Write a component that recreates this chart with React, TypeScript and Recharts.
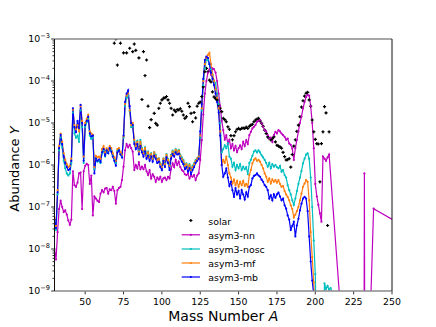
import React from "react";
import { ComposedChart, Line, Scatter, XAxis, YAxis } from "recharts";

// every model series starts at A = 30 and steps by 1
const massStart = 30;

// log10 of abundance Y
const mbLog = [
  -7.3, -7.5, -6.65, -5.6, -5.28, -5.5, -5.8, -5.95, -6.05, -6.12, // 30
  -6.1, -5.9, -4.65, -5.1, -5.22, -4.95, -5.12, -4.57, -5.0, -5.9, // 40
  -5.05, -4.95, -4.85, -5.25, -5.32, -5.3, -6.2, -5.85, -5.9, -5.87, // 50
  -5.93, -5.7, -5.62, -5.78, -5.65, -5.72, -5.6, -5.68, -5.8, -5.9, // 60
  -6.02, -5.7, -5.65, -5.75, -5.82, -5.3, -4.5, -4.3, -4.22, -4.6, // 70
  -5.0, -5.05, -5.5, -5.62, -5.5, -5.75, -5.55, -5.7, -5.8, -5.68, // 80
  -5.85, -5.78, -5.9, -5.8, -5.92, -5.78, -5.85, -5.95, -5.92, -6.05, // 90
  -6.12, -5.9, -6.05, -5.82, -5.95, -6.12, -5.85, -5.74, -5.8, -5.7, // 100
  -5.75, -5.73, -5.85, -5.92, -5.98, -6.1, -6.05, -6.16, -6.08, -6.22, // 110
  -6.12, -6.05, -5.95, -5.9, -5.85, -5.2, -4.55, -3.95, -3.5, -3.42, // 120
  -3.45, -3.6, -3.8, -3.95, -4.1, -4.3, -4.5, -4.75, -5.3, -6.0, // 130
  -6.28, -6.2, -6.08, -6.3, -6.5, -6.4, -6.6, -6.76, -6.55, -6.7, // 140
  -6.62, -6.8, -6.6, -6.7, -6.82, -6.65, -6.75, -6.52, -6.48, -6.32, // 150
  -6.26, -6.24, -6.2, -6.25, -6.28, -6.35, -6.4, -6.48, -6.52, -6.6, // 160
  -6.8, -6.72, -6.84, -6.7, -6.78, -6.7, -6.66, -6.75, -6.84, -6.8, // 170
  -6.96, -7.04, -7.2, -7.3, -7.55, -7.45, -7.35, -7.7, -7.44, -7.28, // 180
  -7.08, -6.92, -6.8, -6.76, -6.8, -7.1, -7.7, -8.3, -8.75, -9.1, // 190
  -10,
];

const mfLog = [
  -7.25, -7.45, -6.6, -5.55, -5.25, -5.45, -5.72, -5.88, -5.98, -6.05, // 30
  -6.02, -5.85, -4.68, -5.05, -5.15, -5.05, -5.2, -4.6, -4.95, -5.8, // 40
  -5.0, -4.9, -4.8, -5.2, -5.25, -5.28, -6.05, -5.78, -5.82, -5.8, // 50
  -5.85, -5.62, -5.55, -5.7, -5.6, -5.65, -5.55, -5.6, -5.72, -5.82, // 60
  -5.9, -5.62, -5.6, -5.7, -5.75, -5.32, -4.55, -4.35, -4.3, -4.7, // 70
  -5.05, -5.0, -5.4, -5.55, -5.45, -5.68, -5.45, -5.62, -5.72, -5.6, // 80
  -5.78, -5.7, -5.82, -5.74, -5.85, -5.7, -5.78, -5.88, -5.85, -5.98, // 90
  -6.05, -5.85, -5.98, -5.76, -5.88, -6.02, -5.78, -5.68, -5.74, -5.64, // 100
  -5.7, -5.66, -5.78, -5.85, -5.9, -6.02, -5.98, -6.08, -6.0, -6.12, // 110
  -6.05, -5.98, -5.9, -5.85, -5.8, -5.3, -4.65, -4.0, -3.6, -3.45, // 120
  -3.38, -3.33, -3.6, -3.85, -4.0, -4.2, -4.4, -4.65, -5.2, -6.0, // 130
  -5.88, -5.95, -5.8, -6.0, -6.2, -6.3, -6.44, -6.35, -6.48, -6.38, // 140
  -6.52, -6.4, -6.48, -6.38, -6.5, -6.45, -6.52, -6.24, -6.12, -5.96, // 150
  -5.88, -5.84, -5.9, -5.88, -5.92, -6.0, -6.08, -6.2, -6.28, -6.4, // 160
  -6.32, -6.44, -6.34, -6.4, -6.36, -6.42, -6.36, -6.45, -6.52, -6.5, // 170
  -6.62, -6.7, -6.76, -6.84, -6.96, -7.05, -7.25, -7.18, -7.1, -7.0, // 180
  -6.84, -6.68, -6.52, -6.44, -6.36, -6.4, -6.84, -7.6, -8.2, -8.8, // 190
  -9.6,
];

const noscLog = [
  -7.35, -7.55, -6.7, -5.65, -5.35, -5.58, -5.9, -6.08, -6.2, -6.25, // 30
  -6.2, -5.95, -4.75, -5.25, -5.35, -5.3, -5.45, -4.7, -5.1, -5.95, // 40
  -5.1, -4.98, -4.9, -5.3, -5.38, -5.35, -6.1, -5.85, -5.92, -5.9, // 50
  -5.95, -5.72, -5.65, -5.8, -5.66, -5.72, -5.6, -5.66, -5.78, -5.88, // 60
  -5.95, -5.66, -5.64, -5.74, -5.8, -5.35, -4.6, -4.4, -4.35, -4.72, // 70
  -5.1, -5.08, -5.42, -5.55, -5.42, -5.65, -5.4, -5.6, -5.7, -5.58, // 80
  -5.75, -5.68, -5.8, -5.72, -5.84, -5.7, -5.76, -5.86, -5.84, -5.96, // 90
  -6.04, -5.84, -5.96, -5.74, -5.86, -6.0, -5.76, -5.66, -5.72, -5.62, // 100
  -5.68, -5.64, -5.76, -5.82, -5.88, -6.0, -5.96, -6.06, -5.98, -6.1, // 110
  -6.02, -5.96, -5.88, -5.84, -5.8, -5.35, -4.7, -4.1, -3.7, -3.5, // 120
  -3.5, -3.6, -3.72, -3.85, -4.0, -4.05, -4.3, -4.55, -5.0, -5.7, // 130
  -5.62, -5.53, -5.6, -5.48, -5.8, -5.85, -6.04, -5.95, -6.12, -6.0, // 140
  -6.08, -5.98, -6.12, -6.04, -6.1, -6.05, -6.22, -5.95, -5.88, -5.78, // 150
  -5.68, -5.65, -5.7, -5.65, -5.7, -5.77, -5.82, -5.88, -5.95, -6.04, // 160
  -5.95, -6.08, -5.98, -6.04, -6.0, -6.05, -6.08, -6.02, -6.16, -6.12, // 170
  -6.24, -6.3, -6.48, -6.6, -6.7, -6.84, -6.95, -6.8, -6.62, -6.45, // 180
  -6.3, -6.14, -5.96, -5.85, -5.75, -5.72, -5.85, -6.3, -7.0, -7.8, // 190
  -8.6, -10.5, -10.5, -10.5, -10.5, -10.5, -8.82, -8.95, -8.88, -8.97, // 200
  -8.93, -9.02, -9.5, -11,
];

const nnLog = [
  -8.0, -8.25, -7.6, -7.05, -6.85, -7.0, -7.12, -7.08, -7.18, -7.32, // 30
  -7.42, -7.3, -6.15, -6.48, -6.52, -6.42, -6.2, -6.18, -7.05, -6.15, // 40
  -6.02, -5.97, -6.0, -6.45, -6.25, -7.2, -6.75, -6.8, -6.85, -6.88, // 50
  -6.68, -6.6, -6.65, -6.56, -6.55, -6.68, -6.58, -6.6, -6.52, -6.62, // 60
  -6.92, -6.6, -6.55, -6.52, -6.36, -6.04, -5.65, -5.5, -5.58, -5.52, // 70
  -5.6, -5.68, -6.12, -6.0, -6.08, -5.93, -6.1, -6.04, -6.1, -6.0, // 80
  -6.15, -6.24, -6.12, -6.32, -6.22, -6.28, -6.4, -6.3, -6.35, -6.28, // 90
  -6.4, -6.32, -6.3, -6.36, -6.28, -6.32, -6.1, -5.96, -6.05, -5.88, // 100
  -6.0, -5.92, -6.05, -6.12, -6.15, -6.22, -6.24, -6.2, -6.32, -6.25, // 110
  -6.28, -6.24, -6.36, -6.25, -6.2, -5.88, -5.41, -4.8, -4.3, -4.0, // 120
  -3.8, -3.72, -3.85, -3.7, -3.72, -3.8, -4.0, -4.3, -4.6, -4.95, // 130
  -5.17, -5.4, -5.29, -5.49, -5.4, -5.6, -5.5, -5.65, -5.55, -5.69, // 140
  -5.6, -5.53, -5.62, -5.45, -5.55, -5.41, -5.5, -5.29, -5.21, -5.13, // 150
  -5.09, -5.05, -4.97, -4.95, -4.93, -5.01, -5.09, -5.17, -5.2, -5.29, // 160
  -5.37, -5.35, -5.45, -5.29, -5.21, -5.25, -5.17, -5.2, -5.25, -5.29, // 170
  -5.33, -5.4, -5.37, -5.49, -5.52, -5.61, -5.88, -5.6, -5.4, -5.2, // 180
  -5.0, -4.85, -4.65, -4.5, -4.38, -4.33, -4.35, -4.6, -5.0, -5.6, // 190
  -6.45, -6.75, -6.95, -7.15, -7.35, -5.8, -5.85, -5.9, -5.82, -5.75, // 200
];
// asym3-nn goes on past A = 209 with a few isolated points (most far below 1e-9)
const nnTailMass = [219, 231, 232, 233, 236, 238, 260];
const nnTailLog = [-10.7, -25, -6.2, -25, -9.4, -7.04, -7.5];

const solarMass = [
  69, 70, 71, 73, 75, 77, 79, 81, 82, 83, 85, 87, 88, 89, 90, 91, 92, 93, 95, 96,
  97, 98, 99, 100, 101, 102, 103, 104, 105, 106, 107, 108, 109, 110, 111, 112, 113, 114, 115, 116,
  117, 118, 119, 120, 121, 122, 123, 124, 125, 126, 127, 128, 129, 130, 131, 132, 133, 134, 135, 136,
  137, 138, 139, 140, 141, 142, 143, 144, 145, 146, 147, 148, 149, 150, 151, 152, 153, 154, 155, 156,
  157, 158, 159, 160, 161, 162, 163, 164, 165, 166, 167, 168, 169, 170, 171, 172, 173, 174, 175, 176,
  177, 178, 179, 180, 181, 182, 183, 184, 185, 186, 187, 188, 189, 190, 191, 192, 193, 194, 195, 196,
  197, 198, 199, 200, 201, 202, 203, 204, 205, 206, 207, 208, 209,
];
const solarLog = [
  -3.1, -3.0, -3.62, -3.1, -3.33, -3.33, -3.22, -3.3, -3.12, -3.27, -3.45, -4.44, -3.3, -3.87, -3.5, -4.6, -5.11, -4.92, -4.77, -5.01,
  -5.05, -4.65, -4.53, -4.45, -4.41, -4.4, -4.37, -4.45, -4.53, -4.65, -4.81, -4.69, -4.73, -4.68, -4.69, -4.66, -4.72, -4.81, -4.89, -4.85,
  -4.53, -4.61, -4.77, -4.97, -4.75, -4.88, -4.6, -4.53, -4.5, -4.37, -4.14, -3.78, -3.7, -3.78, -3.98, -4.02, -4.26, -4.38, -4.42, -4.45,
  -4.57, -4.65, -4.73, -4.89, -4.92, -4.97, -5.09, -5.15, -5.3, -5.4, -5.3, -5.21, -5.15, -5.13, -5.15, -5.13, -5.12, -5.13, -5.1, -5.13,
  -5.08, -5.05, -5.03, -4.97, -4.93, -4.91, -4.89, -4.95, -5.01, -5.08, -5.17, -5.25, -5.33, -5.37, -5.4, -5.37, -5.33, -5.45, -5.53, -5.55,
  -5.57, -5.6, -5.7, -5.8, -5.88, -5.87, -5.85, -6.05, -5.75, -5.55, -5.4, -5.2, -5.05, -4.85, -4.62, -4.47, -4.36, -4.29, -4.27, -4.45,
  -4.6, -4.93, -5.21, -5.39, -5.49, -5.5, -6.4, -5.49, -5.21, -4.61, -4.76, -7.44, -5.21,
];

const xTicks = [50, 75, 100, 125, 150, 175, 200, 225, 250];
const decades = [-9, -8, -7, -6, -5, -4, -3];

// major ticks at each decade, minor ticks at 2..9 x 10^n
const yTicks: number[] = [];
decades.forEach((d) => {
  yTicks.push(d);
  if (d < -3) {
    for (let k = 2; k <= 9; k++) yTicks.push(d + Math.log10(k));
  }
});

const toPoints = (logs: number[]) => logs.map((y, i) => ({ a: massStart + i, y }));

const nnData = [
  ...toPoints(nnLog),
  ...nnTailMass.map((a, i) => ({ a, y: nnTailLog[i] })),
];
const solarData = solarMass.map((a, i) => ({ a, y: solarLog[i] }));

const SERIES = [
  { name: "asym3-nn", color: "#bf00bf", data: nnData },
  { name: "asym3-nosc", color: "#00bfbf", data: toPoints(noscLog) },
  { name: "asym3-mf", color: "#ff7f0e", data: toPoints(mfLog) },
  { name: "asym3-mb", color: "#0000ff", data: toPoints(mbLog) },
];

const FONT = "DejaVu Sans";
const PLOT = { left: 54.5, right: 392, top: 39, bottom: 291 };

const YTick = (props: any) => {
  const { x, y, payload } = props;
  const v: number = payload.value;
  const major = Math.abs(v - Math.round(v)) < 1e-6;
  return (
    <g>
      <line x1={x} x2={x - (major ? 3.4 : 2)} y1={y} y2={y} stroke="#000" strokeWidth={0.8} />
      {major && (
        <text x={x - 4.5} y={y + 3.4} textAnchor="end" fontSize={9.4} fill="#000" fontFamily={FONT}>
          10
          <tspan dy={-4.3} fontSize={6.6}>
            {"\u2212" + Math.abs(Math.round(v))}
          </tspan>
        </text>
      )}
    </g>
  );
};

const XTick = (props: any) => {
  const { x, y, payload } = props;
  return (
    <g>
      <line x1={x} x2={x} y1={y} y2={y + 3.4} stroke="#000" strokeWidth={0.8} />
      <text x={x} y={y + 14.2} textAnchor="middle" fontSize={9.4} fill="#000" fontFamily={FONT}>
        {payload.value}
      </text>
    </g>
  );
};

const SolarMark = (props: any) => {
  const { cx, cy } = props;
  if (cx == null || cy == null) return null;
  return (
    <g>
      <path d={`M${cx - 1.6},${cy}h3.2M${cx},${cy - 1.6}v3.2`} stroke="#000" strokeWidth={1.1} />
      <circle cx={cx} cy={cy} r={0.9} fill="#000" />
    </g>
  );
};

const legendRows = [220.5, 234.8, 249, 263, 277];

const App: React.FC = () => {
  return (
    <div style={{ position: "absolute", left: 0, top: 0, width: 436, height: 327, background: "#fff" }}>
      <ComposedChart
        width={436}
        height={327}
        margin={{ top: 39, right: 44, bottom: 0, left: 0 }}
        style={{ fontFamily: FONT }}
      >
        <XAxis
          dataKey="a"
          type="number"
          domain={[30, 250]}
          allowDataOverflow
          ticks={xTicks}
          interval={0}
          height={36}
          axisLine={false}
          tickLine={false}
          tickSize={0}
          tickMargin={0}
          tick={<XTick />}
        />
        <YAxis
          dataKey="y"
          type="number"
          domain={[-9, -3]}
          allowDataOverflow
          ticks={yTicks}
          interval={0}
          width={54.5}
          axisLine={false}
          tickLine={false}
          tickSize={0}
          tickMargin={0}
          tick={<YTick />}
        />
        <Scatter data={solarData} shape={<SolarMark />} isAnimationActive={false} legendType="none" />
        {SERIES.map((s) => (
          <Line
            key={s.name}
            data={s.data}
            dataKey="y"
            type="linear"
            stroke={s.color}
            strokeWidth={1.2}
            dot={{ r: 1.1, fill: s.color, stroke: "none" }}
            activeDot={false}
            isAnimationActive={false}
            legendType="none"
          />
        ))}
      </ComposedChart>

      <svg
        width={436}
        height={327}
        style={{ position: "absolute", left: 0, top: 0, pointerEvents: "none" }}
        fontFamily={FONT}
      >
        {/* frame */}
        <line x1={PLOT.left} x2={PLOT.right} y1={PLOT.top} y2={PLOT.top} stroke="#8a8a8a" strokeWidth={1.6} />
        <line x1={PLOT.left} x2={PLOT.right} y1={PLOT.bottom} y2={PLOT.bottom} stroke="#8a8a8a" strokeWidth={1.6} />
        <line x1={PLOT.left} x2={PLOT.left} y1={PLOT.top} y2={PLOT.bottom} stroke="#111" strokeWidth={1} />
        <line x1={PLOT.right} x2={PLOT.right} y1={PLOT.top} y2={PLOT.bottom} stroke="#111" strokeWidth={1} />

        <text x={223.25} y={321} textAnchor="middle" fontSize={14} fill="#000">
          Mass Number <tspan fontStyle="italic">A</tspan>
        </text>
        <text transform="translate(18.5,169) rotate(-90)" textAnchor="middle" fontSize={13} fill="#000">
          Abundance <tspan fontStyle="italic">Y</tspan>
        </text>

        {/* legend */}
        <SolarMark cx={190.85} cy={legendRows[0]} />
        <text x={208.3} y={legendRows[0] + 4} fontSize={9.4} fill="#000">
          solar
        </text>
        {SERIES.map((s, i) => {
          const y = legendRows[i + 1];
          return (
            <g key={s.name}>
              <line x1={181.7} x2={200} y1={y} y2={y} stroke={s.color} strokeWidth={1.2} />
              <circle cx={190.85} cy={y} r={1.1} fill={s.color} />
              <text x={208.3} y={y + 4} fontSize={9.4} fill="#000">
                {s.name}
              </text>
            </g>
          );
        })}
      </svg>
    </div>
  );
};

export default App;
